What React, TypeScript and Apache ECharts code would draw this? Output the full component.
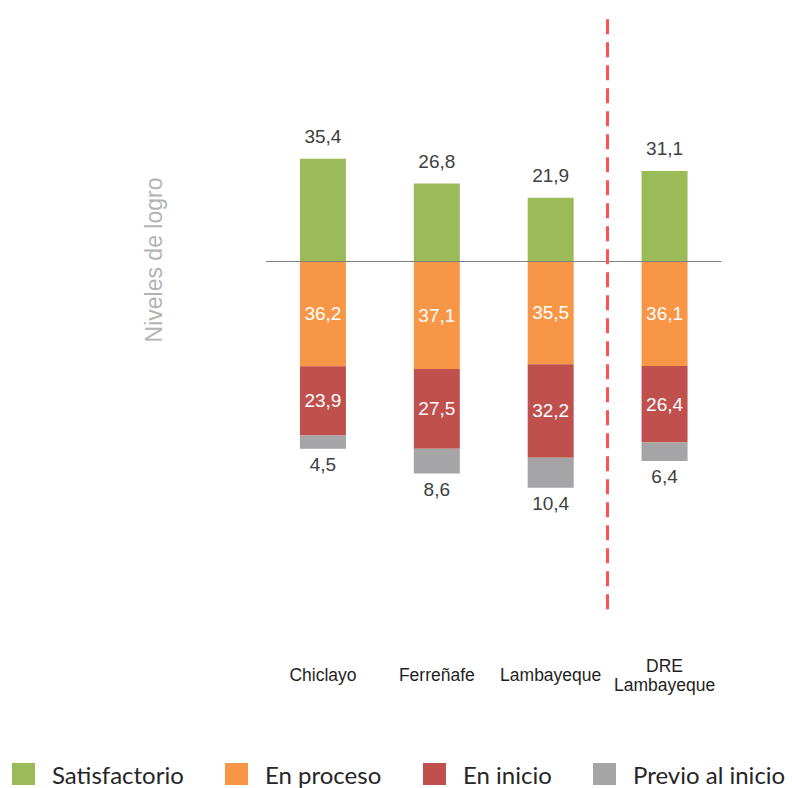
import React, { useEffect, useRef } from "react";
import * as echarts from "echarts";

const categories = ["Chiclayo", "Ferreñafe", "Lambayeque", "DRE\nLambayeque"];
const satisfactorio = [35.4, 26.8, 21.9, 31.1];
const enProceso = [36.2, 37.1, 35.5, 36.1];
const enInicio = [23.9, 27.5, 32.2, 26.4];
const previoAlInicio = [4.5, 8.6, 10.4, 6.4];
const seriesNames = ["Satisfactorio", "En proceso", "En inicio", "Previo al inicio"];
const colors = ["#9BBB59", "#F79646", "#C0504D", "#A5A5A8"];
const legendLefts = [12, 225, 423, 593];
// the dashed divider sits at the boundary before the 4th category (regional total)
const dividerAt = 3;

const fmt = (p: any) => Math.abs(Number(p.value)).toFixed(1).replace(".", ",");
const labelFont = "'Liberation Sans', Arial, sans-serif";

export default function App() {
  const ref = useRef<HTMLDivElement>(null);
  useEffect(() => {
    if (!ref.current) return;
    const chart = echarts.init(ref.current, undefined, { renderer: "svg" });
    const neg = (arr: number[]) => arr.map((v) => -v);
    const insideLabel = {
      show: true,
      position: "inside",
      color: "#ffffff",
      fontSize: 19,
      fontFamily: labelFont,
      formatter: fmt,
    };
    chart.setOption({
      animation: false,
      backgroundColor: "#ffffff",
      grid: { left: 266, width: 455.5, top: 14.8, height: 594.5, containLabel: false },
      xAxis: [
        {
          type: "category",
          data: categories,
          axisLine: { show: false },
          axisTick: { show: false },
          axisLabel: {
            color: "#1f1f1f",
            fontSize: 17.5,
            fontFamily: labelFont,
            margin: 66,
            verticalAlign: "middle",
            lineHeight: 19,
            interval: 0,
          },
          splitLine: { show: false },
        },
        {
          type: "value",
          min: 0,
          max: categories.length,
          show: false,
        },
      ],
      yAxis: { type: "value", min: -120, max: 85, show: false },
      legend: seriesNames.map((n, i) => ({
        data: [n],
        left: legendLefts[i],
        top: 762,
        padding: 0,
        itemWidth: 23,
        itemHeight: 22,
        icon: "rect",
        selectedMode: false,
        textStyle: {
          fontFamily: "Lato, 'Noto Sans', sans-serif",
          fontSize: 24,
          lineHeight: 22,
          color: "#262626",
          padding: [0, 0, 0, 12],
        },
      })),
      graphic: [
        {
          type: "text",
          x: 154,
          y: 260,
          rotation: Math.PI / 2,
          style: {
            text: "Niveles de logro",
            fill: "#b3b3b3",
            fontSize: 23,
            fontFamily: labelFont,
            align: "center",
            verticalAlign: "middle",
          },
        },
      ],
      series: [
        {
          name: seriesNames[0],
          type: "bar",
          stack: "total",
          barWidth: 46,
          data: satisfactorio,
          itemStyle: { color: colors[0] },
          label: {
            show: true,
            position: "top",
            distance: 13,
            color: "#404040",
            fontSize: 19,
            fontFamily: labelFont,
            formatter: fmt,
          },
          markLine: {
            silent: true,
            symbol: ["none", "none"],
            label: { show: false },
            lineStyle: { color: "#808080", width: 1, type: "solid" },
            data: [{ yAxis: 0 }],
          },
        },
        {
          name: seriesNames[1],
          type: "bar",
          stack: "total",
          barWidth: 46,
          data: neg(enProceso),
          itemStyle: { color: colors[1] },
          label: insideLabel,
        },
        {
          name: seriesNames[2],
          type: "bar",
          stack: "total",
          barWidth: 46,
          data: neg(enInicio),
          itemStyle: { color: colors[2] },
          label: insideLabel,
        },
        {
          name: seriesNames[3],
          type: "bar",
          stack: "total",
          barWidth: 46,
          data: neg(previoAlInicio),
          itemStyle: { color: colors[3] },
          label: {
            show: true,
            position: "bottom",
            distance: 6,
            color: "#404040",
            fontSize: 19,
            fontFamily: labelFont,
            formatter: fmt,
          },
        },
        {
          name: "divider",
          type: "line",
          xAxisIndex: 1,
          yAxisIndex: 0,
          data: [],
          silent: true,
          markLine: {
            silent: true,
            symbol: ["none", "none"],
            label: { show: false },
            lineStyle: { color: "#FF5252", width: 3, type: [15, 8] },
            data: [{ xAxis: dividerAt }],
          },
        },
      ],
    });
    return () => chart.dispose();
  }, []);
  return (
    <div
      ref={ref}
      style={{ position: "absolute", left: 0, top: 0, width: 792, height: 788 }}
    />
  );
}
